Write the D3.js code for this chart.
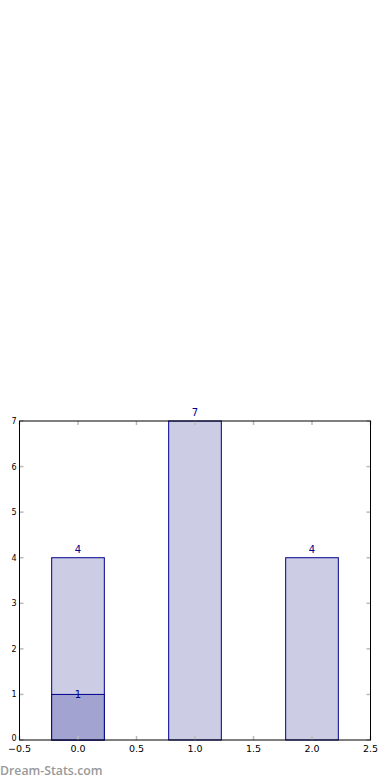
<!DOCTYPE html>
<html>
<head>
<meta charset="utf-8">
<script src="https://cdn.jsdelivr.net/npm/d3@7"></script>
<style>
body { margin: 0; background: #fff; }
text { font-family: "DejaVu Sans", sans-serif; }
</style>
</head>
<body>
<div id="chart"></div>
<script>
// data
var categories = [0, 1, 2];
var totals = [4, 7, 4];
var inner = [1, 0, 0];
var xTicks = [-0.5, 0.0, 0.5, 1.0, 1.5, 2.0, 2.5];
var yTicks = [0, 1, 2, 3, 4, 5, 6, 7];

var svgWidth = 390;
var svgHeight = 780;
var margin = { top: 421, right: 20, bottom: 40, left: 19.5 };
var chartWidth = 370.5 - margin.left;
var chartHeight = 740 - margin.top;
var barWidth = 0.45;

var svg = d3.select("#chart").append("svg")
    .attr("width", svgWidth)
    .attr("height", svgHeight);

var g = svg.append("g")
    .attr("transform", `translate(${margin.left}, ${margin.top})`);

var xScale = d3.scaleLinear().domain([-0.5, 2.5]).range([0, chartWidth]);
var yScale = d3.scaleLinear().domain([0, 7]).range([chartHeight, 0]);

// bars
g.selectAll(".bar")
    .data(categories)
    .enter()
    .append("rect")
    .attr("class", "bar")
    .attr("x", d => xScale(d - barWidth / 2))
    .attr("width", xScale(barWidth) - xScale(0))
    .attr("y", (d, i) => yScale(totals[i]))
    .attr("height", (d, i) => yScale(0) - yScale(totals[i]))
    .attr("fill", "#ccccE5")
    .attr("stroke", "#00008b")
    .attr("stroke-width", 1);

g.selectAll(".inner")
    .data(categories.filter((d, i) => inner[i] > 0))
    .enter()
    .append("rect")
    .attr("class", "inner")
    .attr("x", d => xScale(d - barWidth / 2))
    .attr("width", xScale(barWidth) - xScale(0))
    .attr("y", d => yScale(inner[d]))
    .attr("height", d => yScale(0) - yScale(inner[d]))
    .attr("fill", "#a3a3d1")
    .attr("stroke", "#00008b")
    .attr("stroke-width", 1);

// value labels
g.selectAll(".lbl")
    .data(categories)
    .enter()
    .append("text")
    .attr("x", d => xScale(d))
    .attr("y", (d, i) => yScale(totals[i]) - 5)
    .attr("text-anchor", "middle")
    .attr("font-size", "10px")
    .attr("fill", "#00008b")
    .text((d, i) => totals[i]);

g.selectAll(".lbl-in")
    .data(categories.filter((d, i) => inner[i] > 0))
    .enter()
    .append("text")
    .attr("x", d => xScale(d))
    .attr("y", d => yScale(inner[d]) + 4)
    .attr("text-anchor", "middle")
    .attr("font-size", "10px")
    .attr("fill", "#00008b")
    .text(d => inner[d]);

// ticks (inside, grey) on all sides
var tickColor = "#bbbbbb";
g.selectAll(".xt-b").data(xTicks).enter().append("line")
    .attr("x1", d => xScale(d)).attr("x2", d => xScale(d))
    .attr("y1", chartHeight).attr("y2", chartHeight - 4)
    .attr("stroke", tickColor).attr("stroke-width", 1.5);
g.selectAll(".xt-t").data(xTicks).enter().append("line")
    .attr("x1", d => xScale(d)).attr("x2", d => xScale(d))
    .attr("y1", 0).attr("y2", 4)
    .attr("stroke", tickColor).attr("stroke-width", 1.5);
g.selectAll(".yt-l").data(yTicks).enter().append("line")
    .attr("x1", 0).attr("x2", 4)
    .attr("y1", d => yScale(d)).attr("y2", d => yScale(d))
    .attr("stroke", tickColor).attr("stroke-width", 1.5);
g.selectAll(".yt-r").data(yTicks).enter().append("line")
    .attr("x1", chartWidth).attr("x2", chartWidth - 4)
    .attr("y1", d => yScale(d)).attr("y2", d => yScale(d))
    .attr("stroke", tickColor).attr("stroke-width", 1.5);

// frame
g.append("rect")
    .attr("x", 0).attr("y", 0)
    .attr("width", chartWidth).attr("height", chartHeight)
    .attr("fill", "none")
    .attr("stroke", "#000")
    .attr("stroke-width", 1);

// tick labels
var fmt = d3.format(".1f");
g.selectAll(".xl").data(xTicks).enter().append("text")
    .attr("x", d => xScale(d))
    .attr("y", chartHeight + 12)
    .attr("text-anchor", "middle")
    .attr("font-size", "9.5px")
    .attr("fill", "#000")
    .text(d => fmt(d).replace("-", "\u2212"));

g.selectAll(".yl").data(yTicks).enter().append("text")
    .attr("x", -3)
    .attr("y", d => yScale(d) + (d === 0 ? 1 : 3))
    .attr("text-anchor", "end")
    .attr("font-size", "8px")
    .attr("fill", "#000")
    .text(d => d);

// watermark
svg.append("text")
    .attr("x", 0)
    .attr("y", 775)
    .style("font-family", "'Open Sans', sans-serif")
    .attr("font-size", "12.3px")
    .attr("font-weight", "600")
    .attr("fill", "#999")
    .text("Dream-Stats.com");
</script>
</body>
</html>
